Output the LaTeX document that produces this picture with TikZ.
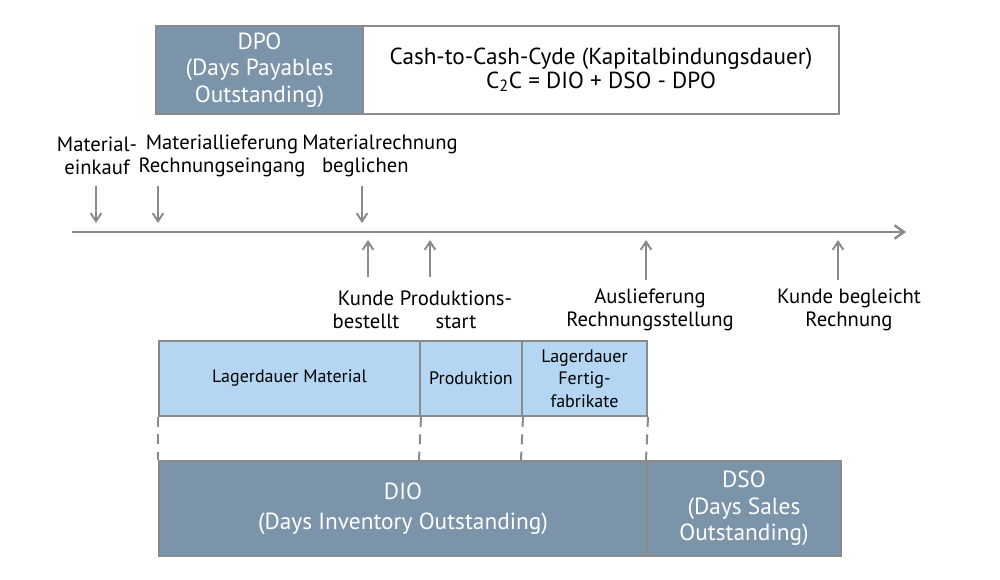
\documentclass[tikz,border=0pt]{standalone}
\usepackage{fontspec}
\setmainfont{PT Sans}
\usetikzlibrary{arrows.meta}
\definecolor{lineg}{HTML}{8A8A8A}
\definecolor{lblue}{HTML}{B4D6F2}
\definecolor{dblue}{HTML}{7B94A9}
\tikzset{
  txt/.style={font=\fontsize{15.5}{17.3}\selectfont, align=center, inner sep=0pt},
  lbox/.style={draw=lineg, line width=1.5pt, fill=lblue, font=\fontsize{13.5}{16.8}\selectfont, align=center},
  dbox/.style={draw=lineg, line width=1.5pt, fill=dblue, text=white, font=\fontsize{17.5}{20}\selectfont, align=center},
  tick/.style={draw=lineg, line width=1.5pt, -{Straight Barb[length=6pt,width=8pt]}},
  dsh/.style={draw=lineg, line width=1.5pt, dash pattern=on 7.5pt off 5.5pt}
}
\begin{document}
\begin{tikzpicture}[x=0.75pt,y=-0.75pt]
\useasboundingbox (0,0) rectangle (1000,580);
% top box
\node[dbox, minimum width=207*0.75pt, minimum height=88*0.75pt, anchor=north west] (dpo) at (155,25) {DPO\\(Days Payables\\Outstanding)};
\node[draw=lineg, line width=1.5pt, fill=white, minimum width=476*0.75pt, minimum height=88*0.75pt, anchor=north west, font=\fontsize{17.4}{17.4}\selectfont, align=center] (c2c) at (362,25) {Cash-to-Cash-Cyde (Kapitalbindungsdauer)\\C\textsubscript{2}C = DIO + DSO - DPO};
% timeline
\coordinate (tl0) at (72,232);
\coordinate (tl1) at (906,232);
\draw[draw=lineg, line width=1.8pt, -{Straight Barb[length=7pt,width=10pt]}] (tl0) -- (tl1);
% labels above
\node[txt] (l1) at (97,156) {Material-\\einkauf};
\node[txt] (l2) at (222,156) {Materiallieferung\\Rechnungseingang};
\node[txt] (l3) at (380,156) {Materialrechnung\\beglichen\hspace*{22pt}};
\coordinate (a1s) at (96,186); \coordinate (a1e) at (96,223);
\coordinate (a2s) at (158,186); \coordinate (a2e) at (158,223);
\coordinate (a3s) at (362,186); \coordinate (a3e) at (362,223);
\draw[tick] (a1s) -- (a1e);
\draw[tick] (a2s) -- (a2e);
\draw[tick] (a3s) -- (a3e);
% labels below
\node[txt] (b1) at (366,310) {Kunde\\bestellt};
\node[txt] (b2) at (456,310) {Produktions-\\start};
\node[txt] (b3) at (650,310) {Auslieferung\\Rechnungsstellung};
\node[txt] (b4) at (849,310) {Kunde begleicht\\Rechnung};
\coordinate (u1s) at (368,277); \coordinate (u1e) at (368,240);
\coordinate (u2s) at (430,277); \coordinate (u2e) at (430,240);
\coordinate (u3s) at (646,280); \coordinate (u3e) at (646,240);
\coordinate (u4s) at (838,280); \coordinate (u4e) at (838,240);
\draw[tick] (u1s) -- (u1e);
\draw[tick] (u2s) -- (u2e);
\draw[tick] (u3s) -- (u3e);
\draw[tick] (u4s) -- (u4e);
% light boxes
\node[lbox, minimum width=261*0.75pt, minimum height=75*0.75pt, anchor=north west] (lm) at (158,340) {Lagerdauer Material};
\node[lbox, minimum width=102*0.75pt, minimum height=75*0.75pt, anchor=north west] (pr) at (419,340) {Produktion};
\node[lbox, minimum width=125*0.75pt, minimum height=75*0.75pt, anchor=north west] (lf) at (521,340) {Lagerdauer\\Fertig-\\fabrikate};
% dark boxes
\node[dbox, minimum width=488*0.75pt, minimum height=95*0.75pt, anchor=north west, font=\fontsize{17.5}{22.5}\selectfont] (dio) at (158,460) {DIO\\(Days Inventory Outstanding)};
\node[dbox, minimum width=194*0.75pt, minimum height=95*0.75pt, anchor=north west] (dso) at (646,460) {DSO\\(Days Sales\\Outstanding)};
% dashed connectors
\draw[dsh] (lm.south west) -- (dio.north west);
\draw[dsh] (lm.south east) -- (dio.north west -| pr.south west);
\draw[dsh] (pr.south east) -- (dio.north west -| lf.south west);
\draw[dsh] (lf.south east) -- (dso.north west);
\end{tikzpicture}
\end{document}
